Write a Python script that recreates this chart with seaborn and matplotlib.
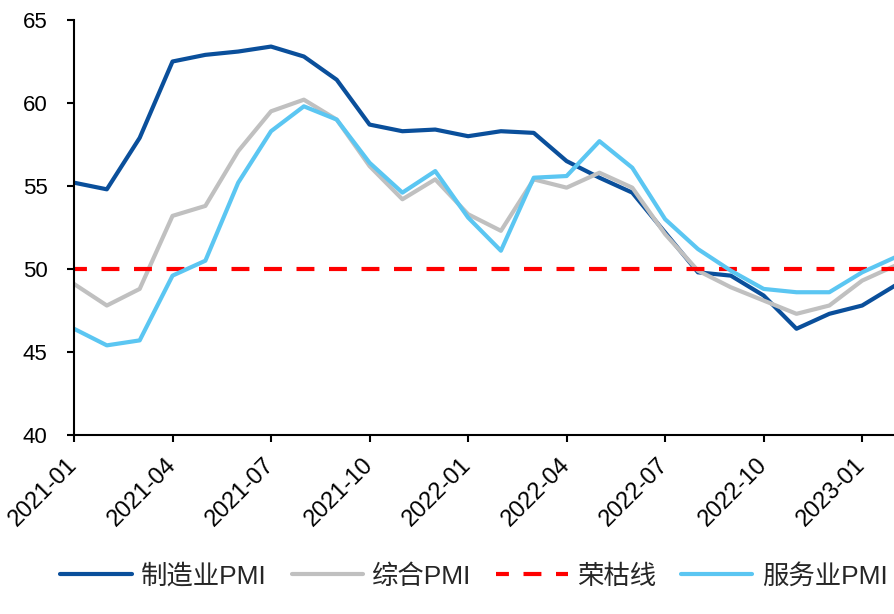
import matplotlib
matplotlib.use("Agg")
import matplotlib.pyplot as plt
import seaborn as sns
import pandas as pd
import numpy as np

months = ["2021-01", "2021-02", "2021-03", "2021-04", "2021-05", "2021-06",
          "2021-07", "2021-08", "2021-09", "2021-10", "2021-11", "2021-12",
          "2022-01", "2022-02", "2022-03", "2022-04", "2022-05", "2022-06",
          "2022-07", "2022-08", "2022-09", "2022-10", "2022-11", "2022-12",
          "2023-01", "2023-02"]

manufacturing = [55.2, 54.8, 57.9, 62.5, 62.9, 63.1, 63.4, 62.8, 61.4, 58.7,
                 58.3, 58.4, 58.0, 58.3, 58.2, 56.5, 55.5, 54.6, 52.2, 49.8,
                 49.6, 48.4, 46.4, 47.3, 47.8, 49.0]
composite = [49.1, 47.8, 48.8, 53.2, 53.8, 57.1, 59.5, 60.2, 59.0, 56.2,
             54.2, 55.4, 53.3, 52.3, 55.4, 54.9, 55.8, 54.9, 52.1, 49.9,
             48.9, 48.1, 47.3, 47.8, 49.3, 50.2]
services = [46.4, 45.4, 45.7, 49.6, 50.5, 55.2, 58.3, 59.8, 59.0, 56.4,
            54.6, 55.9, 53.1, 51.1, 55.5, 55.6, 57.7, 56.1, 53.0, 51.2,
            49.9, 48.8, 48.6, 48.6, 49.8, 50.7]
threshold = [50.0] * len(months)

series_names = ["制造业PMI", "综合PMI", "荣枯线", "服务业PMI"]
series_values = [manufacturing, composite, threshold, services]
colors = ["#0A4F9B", "#C0C0C0", "#FF0000", "#5BC6F2"]
tick_labels = months[::3]

sns.set_style("ticks")
plt.rcParams["font.family"] = ["Liberation Sans", "Noto Sans CJK SC"]

fig = plt.figure(figsize=(8.95, 6.14), dpi=100)
ax = fig.add_axes([74 / 895, 1 - 435 / 614, 1 - 74 / 895, 415 / 614])

idx = np.arange(len(months))
for name, vals, col in zip(series_names, series_values, colors):
    df = pd.DataFrame({"x": idx, "y": vals})
    if name == "荣枯线":
        sns.lineplot(data=df, x="x", y="y", ax=ax, color=col, linewidth=3,
                     label=name, dashes=False, linestyle=(1.2, (4.3, 3.5)))
    else:
        sns.lineplot(data=df, x="x", y="y", ax=ax, color=col, linewidth=3,
                     label=name)

ax.set_xlim(0, 25)
ax.set_ylim(40, 65)
ax.set_yticks([40, 45, 50, 55, 60, 65])
ax.set_xticks(idx[::3])
ax.set_xticklabels(tick_labels, rotation=45, ha="right", va="center",
                   rotation_mode="anchor")
ax.set_xlabel("")
ax.set_ylabel("")
for s in ["top", "right"]:
    ax.spines[s].set_visible(False)
for s in ["left", "bottom"]:
    ax.spines[s].set_linewidth(1.5)
    ax.spines[s].set_color("black")
ax.tick_params(axis="y", direction="out", length=5, width=1.5, pad=14,
               labelsize=16, colors="black")
ax.tick_params(axis="x", direction="out", length=5, width=1.5, pad=14,
               labelsize=17, colors="black")

handles, labels = ax.get_legend_handles_labels()
ax.legend(handles, labels, loc="center", bbox_to_anchor=(0.487, -0.34),
          ncol=4, frameon=False, fontsize=19, handlelength=2.7,
          handletextpad=0.35, columnspacing=0.95)

fig.savefig("out.png", dpi=100)
